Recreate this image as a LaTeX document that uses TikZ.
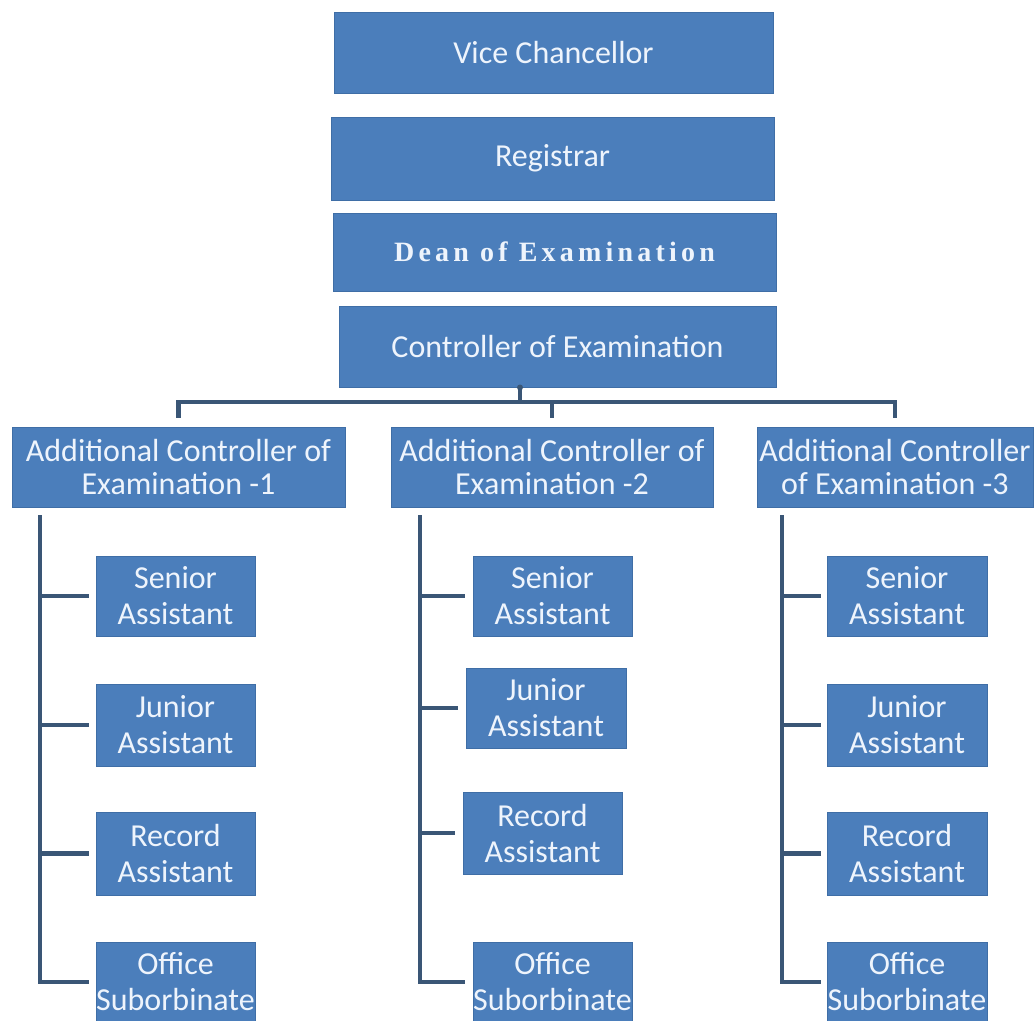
\documentclass[tikz,border=0pt]{standalone}
\usepackage{fontspec}
\setmainfont{Carlito}
\newfontfamily\deanfont[LetterSpace=15]{Liberation Serif}
\definecolor{boxblue}{HTML}{4B7EBB}
\definecolor{boxedge}{HTML}{3F6EA6}
\definecolor{txtc}{HTML}{EEF4FC}
\definecolor{linec}{HTML}{3A5676}
\tikzset{
  orgbox/.style={draw=boxedge, line width=1pt, fill=boxblue, text=txtc, inner sep=0pt, align=center,
    font=\fontsize{32}{33}\selectfont},
  subbox/.style={orgbox, font=\fontsize{32}{36}\selectfont},
  conn/.style={draw=linec, line width=4.5pt, line cap=rect, line join=miter}
}
\begin{document}
\begin{tikzpicture}[x=1pt, y=-1pt]
\useasboundingbox (0,0) rectangle (1036,1020);
\fill[white] (0,0) rectangle (1036,1020);
% top chain
\node[orgbox, minimum width=439pt, minimum height=81pt] (vc) at (553.5,52.5) {Vice Chancellor};
\node[orgbox, minimum width=443pt, minimum height=83pt] (reg) at (552.5,158.5) {Registrar};
\node[orgbox, minimum width=443pt, minimum height=78pt, font=\fontsize{28}{30}\selectfont] (dean) at (554.5,252) {\deanfont\bfseries Dean of Examination};
\node[orgbox, minimum width=437pt, minimum height=81pt] (ctrl) at (557.5,346.5) {Controller of Examination};
% additional controllers
\node[orgbox, minimum width=333pt, minimum height=80pt] (ace1) at (178.5,467) {Additional Controller of\\Examination -1};
\node[orgbox, minimum width=322pt, minimum height=80pt] (ace2) at (552,467) {Additional Controller of\\Examination -2};
\node[orgbox, minimum width=276pt, minimum height=80pt] (ace3) at (895,467) {Additional Controller\\of Examination -3};
% bus
\coordinate (bus) at (0,402);
\draw[conn] ([yshift=11pt]ace1.north) -- (ace1.north |- bus) -- (ace3.north |- bus) -- ([yshift=11pt]ace3.north);
\draw[conn] ([yshift=11pt]ace2.north) -- (ace2.north |- bus);
\draw[conn] ([xshift=-37.5pt]ctrl.south) -- ([xshift=-37.5pt]ctrl.south |- bus);
\fill[linec] ([xshift=-37.5pt]ctrl.south) circle (3pt);
% column 1
\node[subbox, minimum width=159pt, minimum height=80pt] (s1) at (175.5,596) {Senior\\Assistant};
\node[subbox, minimum width=159pt, minimum height=82pt] (j1) at (175.5,725) {Junior\\Assistant};
\node[subbox, minimum width=159pt, minimum height=83pt] (r1) at (175.5,853.5) {Record\\Assistant};
\node[subbox, minimum width=159pt, minimum height=80pt] (o1) at (175.5,982) {Office\\Suborbinate};
\coordinate (t1) at (40,517);
% column 2
\node[subbox, minimum width=159pt, minimum height=80pt] (s2) at (552.5,596) {Senior\\Assistant};
\node[subbox, minimum width=160pt, minimum height=80pt] (j2) at (546,708) {Junior\\Assistant};
\node[subbox, minimum width=159pt, minimum height=82pt] (r2) at (542.5,833) {Record\\Assistant};
\node[subbox, minimum width=159pt, minimum height=80pt] (o2) at (552.5,982) {Office\\Suborbinate};
\coordinate (t2) at (420,517);
% column 3
\node[subbox, minimum width=160pt, minimum height=80pt] (s3) at (907,596) {Senior\\Assistant};
\node[subbox, minimum width=160pt, minimum height=82pt] (j3) at (907,725) {Junior\\Assistant};
\node[subbox, minimum width=160pt, minimum height=83pt] (r3) at (907,853.5) {Record\\Assistant};
\node[subbox, minimum width=160pt, minimum height=80pt] (o3) at (907,982) {Office\\Suborbinate};
\coordinate (t3) at (782,517);
% trunks and branches
\foreach \c/\g in {1/9,2/10,3/8}{
  \draw[conn] (t\c) |- ([xshift=-\g pt]o\c.west);
  \draw[conn] (s\c.west -| t\c) -- ([xshift=-\g pt]s\c.west);
  \draw[conn] (j\c.west -| t\c) -- ([xshift=-\g pt]j\c.west);
  \draw[conn] (r\c.west -| t\c) -- ([xshift=-\g pt]r\c.west);
}
\end{tikzpicture}
\end{document}
